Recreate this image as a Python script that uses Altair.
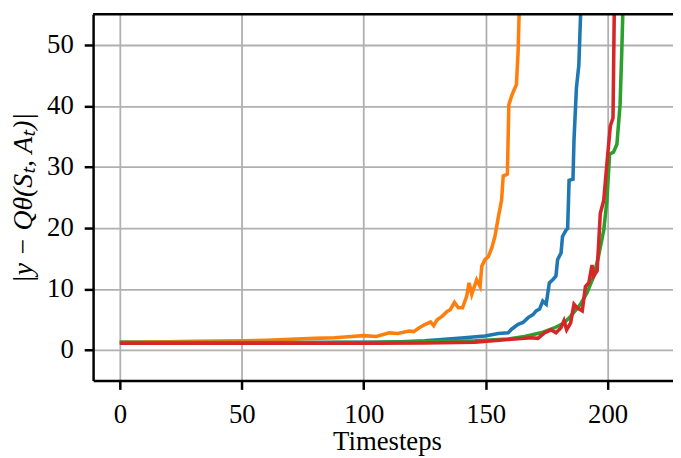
import altair as alt
import pandas as pd

# ---- data ----
series_names = ["a_blue", "b_orange", "c_green", "d_red"]
series_colors = ["#1f77b4", "#ff7f0e", "#2ca02c", "#d62728"]

blue_t = [0, 10, 20, 30, 40, 50, 60, 70, 80, 90, 100, 105, 115, 125, 132, 140, 149.7, 155.2, 159.2,
          160.6, 163.3, 165.3, 167.4, 169.4, 170.7, 172.1, 173.4, 174.8, 176.1, 177.5, 178.8,
          179.5, 180.9, 181.5, 182.9, 183.6, 184.2, 185.8, 186.2, 187.2, 188.2, 188.9, 189.6]
blue_v = [1.2, 1.2, 1.2, 1.2, 1.2, 1.2, 1.2, 1.2, 1.22, 1.24, 1.25, 1.25, 1.35, 1.5, 1.7, 1.95, 2.3, 2.7, 2.8,
          3.4, 4.2, 4.5, 5.3, 5.8, 6.4, 6.7, 8.0, 7.5, 11.0, 11.5, 12.1,
          14.8, 15.9, 18.6, 19.6, 19.9, 27.8, 28.0, 34.3, 42.9, 46.7, 54.8, 90]

orange_t = [0, 10, 20, 30, 40, 50, 60, 70, 75, 80, 88, 95, 100, 105.1, 110.5, 114, 118.6, 120.5, 122.6,
            125.3, 127.4, 128.7, 130.1, 132.1, 134.2, 135.5, 137.2, 138.8, 140.5, 142.2, 143.2,
            144.3, 146.3, 147.7, 148.4, 149.7, 151.1, 152.5, 153.8, 155.2, 156.5, 157.2, 158.9,
            159.5, 160.8, 162.6, 163.3, 163.7, 164.4]
orange_v = [1.25, 1.3, 1.35, 1.4, 1.45, 1.5, 1.6, 1.75, 1.85, 1.9, 2.0, 2.2, 2.35, 2.2, 2.8, 2.7, 3.1, 3.0, 3.6,
            4.2, 4.6, 3.97, 4.96, 5.5, 6.3, 6.6, 7.8, 6.9, 6.9, 8.8, 11.0,
            9.1, 11.5, 10.4, 13.7, 14.8, 15.3, 16.7, 18.6, 21.8, 24.5, 28.5, 28.8,
            40.2, 41.8, 43.5, 48.9, 54.8, 90]

green_t = [0, 20, 40, 60, 80, 100, 105.1, 125, 145.6, 159.2, 165.9, 172.7, 178.1, 182.1, 184.8,
           188.9, 191.6, 194.3, 196.3, 198.4, 199.7, 200.8, 202.4, 203.8, 205.1, 205.8, 206.2, 206.9]
green_v = [1.25, 1.2, 1.2, 1.2, 1.2, 1.2, 1.25, 1.35, 1.5, 1.8, 2.2, 2.8, 3.6, 4.4, 5.5,
           7.5, 9.4, 12.1, 15.4, 19.6, 24.5, 32.1, 32.4, 33.7, 40.2, 48.9, 54.8, 90]

red_t = [0, 20, 40, 60, 80, 100, 105.1, 125, 145.6, 159.2, 168.7, 171.4, 174.1, 176.8, 178.8, 180.8,
         182.1, 183.2, 184.8, 186.2, 187.5, 189.6, 190.9, 192.3, 193.6, 194.3, 195.7, 197.0, 198.4,
         199.7, 201.1, 202.2, 202.7, 203.2]
red_v = [1.1, 1.1, 1.1, 1.1, 1.1, 1.1, 1.1, 1.15, 1.25, 1.7, 2.0, 1.9, 2.8, 3.3, 2.8, 3.6,
         4.8, 3.3, 4.4, 7.5, 6.9, 6.4, 10.4, 11.0, 13.9, 12.1, 13.0, 22.4, 24.5,
         30.5, 36.7, 38.0, 54.8, 90]

x_ticks = [0, 50, 100, 150, 200]
y_ticks = [0, 10, 20, 30, 40, 50]
x_domain = [-10.95, 226.8]
y_domain = [-5, 55]

rows = []
for name, ts, vs in zip(series_names, [blue_t, orange_t, green_t, red_t],
                        [blue_v, orange_v, green_v, red_v]):
    for i, (t, v) in enumerate(zip(ts, vs)):
        rows.append({"series": name, "t": t, "v": v, "ord": i})
df = pd.DataFrame(rows)

W, H = 586, 370
FONT = "Liberation Serif"

lines = alt.Chart(df).mark_line(strokeWidth=3.6, clip=True).encode(
    x=alt.X("t:Q", scale=alt.Scale(domain=x_domain, nice=False, zero=False),
            axis=alt.Axis(values=x_ticks, title="Timesteps", format="d",
                          labelBaseline="alphabetic", labelPadding=33,
                          titleX=297, titleY=70, titleAlign="center",
                          titleBaseline="alphabetic", titleFontSize=27)),
    y=alt.Y("v:Q", scale=alt.Scale(domain=y_domain, nice=False, zero=False),
            axis=alt.Axis(values=y_ticks, title="|y − Qθ(Sₜ, Aₜ)|", format="d",
                          labelPadding=11, labelBaseline="middle",
                          titleX=-62, titleY=H / 2, titleAngle=270, titleAlign="center",
                          titleBaseline="alphabetic", titleFontStyle="italic", titleFontSize=28)),
    color=alt.Color("series:N", scale=alt.Scale(domain=series_names, range=series_colors), legend=None),
    order="ord:Q",
)

top = alt.Chart(pd.DataFrame({"k": [0]})).mark_rule(color="black", strokeWidth=2.5).encode(
    x=alt.value(0), x2=alt.value(W), y=alt.value(0)
)

chart = alt.layer(lines, top).properties(
    width=W, height=H,
    autosize=alt.AutoSizeParams(type="none"),
    padding={"left": 86, "top": 4, "right": 0, "bottom": 78},
    background="white",
).configure_view(stroke=None).configure_axis(
    domainColor="black", domainWidth=2.5,
    tickColor="black", tickWidth=2.5, tickSize=9,
    gridColor="#b0b0b0", gridWidth=1.8,
    labelFont=FONT, labelFontSize=27, labelColor="black",
    titleFont=FONT, titleColor="black", titleFontWeight="normal",
)

chart.save("out.html", embed_options={"renderer": "svg", "actions": False})
